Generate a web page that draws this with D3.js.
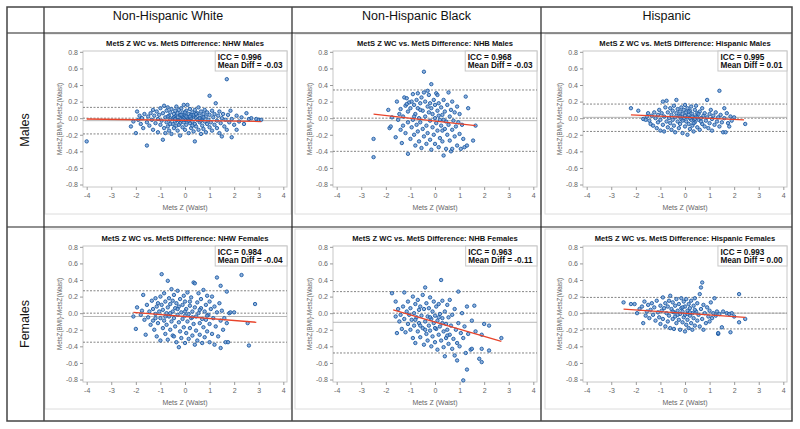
<!DOCTYPE html>
<html>
<head>
<meta charset="utf-8">
<script src="https://cdn.jsdelivr.net/npm/d3@7"></script>
<style>
  body { margin: 0; background: #fff; }
  svg { font-family: Arial, "Liberation Sans", sans-serif; }
</style>
</head>
<body>
<svg id="chart" width="800" height="429"></svg>
<script>
// column / row headers
const groups = ["Non-Hispanic White", "Non-Hispanic Black", "Hispanic"]
const sexes = ["Males", "Females"]
const groupShort = ["NHW", "NHB", "Hispanic"]

// per-panel stats, rows = sexes, cols = groups
const iccValues = [[0.996, 0.968, 0.995], [0.984, 0.963, 0.993]]
const meanDiffs = [[-0.03, -0.03, 0.01], [-0.04, -0.11, 0.00]]
const upperLoA = [[0.13, 0.34, 0.17], [0.27, 0.26, 0.19]]
const lowerLoA = [[-0.19, -0.40, -0.16], [-0.35, -0.48, -0.19]]
// regression line end points [x0, y0, x1, y1]
const fitLines = [
  [[-4.0, -0.01, 3.1, -0.04], [-2.5, 0.05, 1.65, -0.09], [-2.2, 0.04, 2.4, -0.02]],
  [[-2.1, 0.01, 2.9, -0.11], [-1.7, 0.04, 2.7, -0.34], [-2.5, 0.05, 2.45, -0.05]]
]

const xTicks = [-4, -3, -2, -1, 0, 1, 2, 3, 4]
const yTicks = [-0.8, -0.6, -0.4, -0.2, 0.0, 0.2, 0.4, 0.6, 0.8]

// scatter points [MetsZ(Waist), MetsZ(BMI)-MetsZ(Waist)]
const nhwMales = [[-4.0,-0.28],[-2.2,-0.10],[-2.1,-0.04],[-2.0,-0.18],[-1.95,0.08],[-1.9,-0.02],[-1.85,0.03],[-1.8,-0.07],[-1.75,0.0],[-1.7,-0.12],[-1.65,0.05],[-1.55,-0.33],[-1.55,-0.05],[-1.5,0.02],[-1.45,-0.09],[-1.4,0.06],[-1.35,-0.02],[-1.3,0.10],[-1.3,-0.14],[-1.25,0.03],[-1.2,-0.06],[-1.15,0.08],[-1.1,-0.01],[-1.1,-0.17],[-1.05,0.04],[-1.0,-0.08],[-1.0,0.12],[-0.95,-0.03],[-0.9,-0.26],[-0.9,0.06],[-0.85,-0.12],[-0.85,0.15],[-0.8,0.01],[-0.8,-0.18],[-0.75,0.09],[-0.75,-0.05],[-0.7,0.13],[-0.7,-0.10],[-0.65,0.03],[-0.65,-0.15],[-0.6,0.07],[-0.6,-0.02],[-0.55,0.11],[-0.55,-0.19],[-0.5,0.00],[-0.5,-0.07],[-0.45,0.05],[-0.45,-0.12],[-0.4,0.09],[-0.4,-0.04],[-0.4,0.02],[-0.35,-0.09],[-0.35,0.14],[-0.3,0.01],[-0.3,-0.15],[-0.3,0.06],[-0.25,-0.03],[-0.25,0.10],[-0.2,-0.21],[-0.2,0.04],[-0.2,-0.06],[-0.15,0.12],[-0.15,-0.01],[-0.1,-0.11],[-0.1,0.07],[-0.1,0.02],[-0.05,-0.05],[-0.05,0.16],[0.0,-0.14],[0.0,0.03],[0.0,-0.02],[0.05,0.09],[0.05,-0.08],[0.1,0.16],[0.1,-0.03],[0.1,0.01],[0.15,-0.18],[0.15,0.05],[0.2,-0.06],[0.2,0.11],[0.2,-0.01],[0.25,0.04],[0.25,-0.12],[0.3,0.07],[0.3,-0.04],[0.35,-0.16],[0.35,0.02],[0.4,-0.28],[0.4,0.10],[0.4,-0.07],[0.45,0.00],[0.45,-0.10],[0.5,0.06],[0.5,-0.02],[0.55,-0.14],[0.55,0.13],[0.6,-0.05],[0.6,0.03],[0.65,-0.19],[0.65,0.08],[0.7,-0.01],[0.7,-0.09],[0.75,0.05],[0.75,-0.13],[0.8,0.10],[0.8,-0.04],[0.85,0.02],[0.85,-0.17],[0.9,0.07],[0.9,-0.07],[0.95,-0.02],[1.0,0.27],[1.0,-0.11],[1.0,0.04],[1.05,-0.05],[1.1,0.09],[1.1,-0.15],[1.15,0.01],[1.2,-0.08],[1.2,0.05],[1.25,0.18],[1.3,-0.03],[1.3,-0.12],[1.35,0.03],[1.4,-0.18],[1.4,0.08],[1.45,-0.06],[1.5,0.00],[1.5,-0.22],[1.55,0.05],[1.6,-0.10],[1.65,-0.02],[1.7,0.47],[1.7,-0.14],[1.75,0.04],[1.8,-0.05],[1.85,0.09],[1.9,-0.23],[1.9,-0.01],[2.0,-0.08],[2.1,0.03],[2.1,-0.14],[2.2,-0.04],[2.3,0.01],[2.4,-0.07],[2.5,0.06],[2.6,-0.01],[2.7,0.00],[2.9,-0.01],[3.0,-0.02],[3.1,-0.02],[-0.45,0.01],[-0.35,-0.02],[-0.15,0.04],[-0.05,0.0],[0.05,0.02],[0.15,-0.03],[0.25,0.00],[0.35,0.04],[-0.25,-0.08],[0.3,-0.09],[-0.6,-0.07],[0.6,0.0],[0.45,0.05],[-0.1,-0.02],[0.0,0.07],[0.2,0.02],[-0.4,-0.01],[0.65,-0.03],[0.75,0.01],[-0.7,0.02]]

const nhbMales = [[-2.5,-0.47],[-2.5,-0.25],[-1.9,0.10],[-1.85,-0.12],[-1.8,-0.10],[-1.75,0.01],[-1.6,-0.23],[-1.55,0.20],[-1.5,-0.02],[-1.45,0.05],[-1.4,-0.14],[-1.4,0.11],[-1.35,-0.30],[-1.3,0.02],[-1.3,-0.09],[-1.25,0.25],[-1.2,0.15],[-1.2,-0.18],[-1.15,0.24],[-1.1,-0.43],[-1.1,0.08],[-1.1,-0.05],[-1.05,0.19],[-1.0,-0.25],[-1.0,0.12],[-0.95,0.20],[-0.95,-0.11],[-0.9,-0.02],[-0.9,0.29],[-0.85,0.16],[-0.85,-0.20],[-0.8,0.05],[-0.8,-0.33],[-0.75,0.22],[-0.75,-0.08],[-0.7,0.12],[-0.7,-0.16],[-0.7,0.30],[-0.65,0.00],[-0.65,-0.28],[-0.6,0.18],[-0.6,-0.05],[-0.55,0.25],[-0.55,-0.36],[-0.5,0.09],[-0.5,-0.13],[-0.45,0.56],[-0.45,0.31],[-0.45,-0.22],[-0.4,0.02],[-0.4,0.20],[-0.35,-0.09],[-0.35,-0.31],[-0.3,0.14],[-0.3,-0.18],[-0.25,0.07],[-0.25,0.28],[-0.2,-0.03],[-0.2,-0.26],[-0.15,0.41],[-0.15,0.12],[-0.15,-0.38],[-0.1,-0.11],[-0.1,0.05],[-0.05,0.22],[-0.05,-0.20],[0.0,0.00],[0.0,-0.31],[0.0,0.16],[0.05,-0.06],[0.05,0.30],[0.1,-0.15],[0.1,0.09],[0.15,-0.35],[0.15,0.18],[0.2,-0.02],[0.2,-0.24],[0.25,0.13],[0.25,-0.09],[0.3,0.04],[0.3,-0.28],[0.35,-0.45],[0.35,0.22],[0.4,-0.13],[0.4,0.08],[0.45,-0.04],[0.45,-0.37],[0.5,0.16],[0.5,-0.20],[0.55,0.31],[0.55,-0.08],[0.6,0.02],[0.6,-0.27],[0.65,-0.40],[0.65,0.10],[0.7,-0.14],[0.7,0.20],[0.75,-0.03],[0.8,-0.22],[0.8,0.07],[0.85,-0.10],[0.9,0.14],[0.9,-0.33],[0.95,-0.05],[1.0,0.05],[1.0,-0.19],[1.05,-0.37],[1.1,-0.08],[1.15,-0.25],[1.2,-0.35],[1.25,0.26],[1.3,-0.33],[1.35,0.12],[1.55,-0.27],[1.65,-0.09],[-1.15,0.17],[-0.3,0.33],[0.1,0.28],[-0.6,0.10],[0.35,-0.02],[0.7,-0.37],[0.3,-0.15],[-0.85,0.02],[0.15,0.03],[-0.2,0.18]]

const hispMales = [[-2.2,0.12],[-1.9,0.09],[-1.7,-0.01],[-1.6,-0.02],[-1.55,0.02],[-1.5,0.06],[-1.45,-0.03],[-1.4,-0.07],[-1.35,0.03],[-1.3,-0.09],[-1.25,0.07],[-1.2,0.0],[-1.15,-0.12],[-1.1,0.04],[-1.1,-0.05],[-1.05,0.10],[-1.0,-0.02],[-1.0,-0.15],[-0.95,0.06],[-0.9,0.20],[-0.9,-0.08],[-0.85,0.02],[-0.85,-0.16],[-0.8,0.13],[-0.75,0.21],[-0.75,-0.04],[-0.7,0.07],[-0.7,-0.11],[-0.65,0.0],[-0.6,0.12],[-0.6,-0.06],[-0.55,0.04],[-0.55,-0.14],[-0.5,0.09],[-0.5,-0.02],[-0.45,0.15],[-0.45,-0.09],[-0.4,0.01],[-0.4,-0.17],[-0.35,0.22],[-0.35,0.06],[-0.3,-0.04],[-0.3,0.11],[-0.25,-0.12],[-0.25,0.03],[-0.2,0.08],[-0.2,-0.07],[-0.15,0.13],[-0.15,-0.01],[-0.1,-0.18],[-0.1,0.05],[-0.05,0.0],[-0.05,0.10],[0.0,-0.10],[0.0,0.16],[0.0,0.03],[0.05,-0.04],[0.05,0.07],[0.1,-0.20],[0.1,0.01],[0.1,0.12],[0.15,-0.07],[0.15,0.04],[0.2,0.09],[0.2,-0.13],[0.25,-0.02],[0.25,0.14],[0.3,0.05],[0.3,-0.09],[0.35,0.0],[0.35,-0.16],[0.4,0.10],[0.4,-0.05],[0.45,0.02],[0.45,0.15],[0.5,-0.11],[0.5,0.06],[0.55,-0.02],[0.6,0.08],[0.6,-0.14],[0.65,0.0],[0.7,0.12],[0.7,-0.07],[0.75,0.03],[0.8,-0.10],[0.8,0.06],[0.85,-0.03],[0.9,0.22],[0.9,0.01],[0.95,-0.12],[1.0,0.05],[1.0,-0.06],[1.05,0.10],[1.1,-0.01],[1.1,-0.15],[1.15,0.03],[1.2,-0.08],[1.25,0.07],[1.3,-0.04],[1.35,0.01],[1.4,0.33],[1.4,-0.10],[1.45,0.04],[1.5,-0.05],[1.55,-0.17],[1.6,0.12],[1.6,0.0],[1.65,-0.17],[1.7,0.06],[1.75,-0.06],[1.8,-0.10],[1.85,0.02],[1.9,-0.03],[2.0,0.01],[2.45,-0.07],[0.2,0.0],[0.3,0.02],[0.4,-0.01],[-0.1,-0.03],[0.5,0.01],[0.15,0.08],[-0.2,0.02],[0.55,0.05],[0.35,-0.06],[0.65,-0.04]]

const nhwFemales = [[-2.1,-0.04],[-2.0,-0.19],[-1.95,0.07],[-1.8,-0.02],[-1.75,0.03],[-1.7,0.22],[-1.65,-0.08],[-1.6,-0.26],[-1.55,0.10],[-1.5,-0.05],[-1.45,0.02],[-1.4,-0.14],[-1.35,0.15],[-1.3,-0.09],[-1.3,0.05],[-1.25,-0.20],[-1.2,0.18],[-1.2,-0.01],[-1.15,0.08],[-1.15,-0.28],[-1.1,-0.12],[-1.1,0.12],[-1.05,0.02],[-1.0,-0.33],[-1.0,0.20],[-1.0,-0.06],[-0.95,0.47],[-0.95,0.10],[-0.9,-0.18],[-0.9,0.04],[-0.85,0.24],[-0.85,-0.09],[-0.8,-0.25],[-0.8,0.14],[-0.75,0.00],[-0.75,-0.14],[-0.7,0.39],[-0.7,0.07],[-0.7,-0.32],[-0.65,0.18],[-0.65,-0.04],[-0.6,-0.20],[-0.6,0.11],[-0.55,0.29],[-0.55,-0.10],[-0.5,0.02],[-0.5,-0.27],[-0.5,0.15],[-0.45,-0.06],[-0.45,0.22],[-0.4,-0.16],[-0.4,0.06],[-0.35,-0.35],[-0.35,0.12],[-0.3,-0.02],[-0.3,0.27],[-0.25,-0.41],[-0.25,-0.11],[-0.25,0.08],[-0.2,0.17],[-0.2,-0.22],[-0.15,0.01],[-0.15,-0.30],[-0.1,0.10],[-0.1,-0.07],[-0.05,0.21],[-0.05,-0.17],[0.0,-0.03],[0.0,-0.36],[0.0,0.14],[0.05,0.05],[0.05,-0.24],[0.1,-0.10],[0.1,0.25],[0.15,-0.01],[0.15,-0.31],[0.2,0.09],[0.2,-0.18],[0.25,-0.06],[0.25,0.19],[0.3,-0.27],[0.3,0.02],[0.35,0.37],[0.35,-0.13],[0.4,0.36],[0.4,-0.38],[0.4,0.07],[0.45,-0.04],[0.45,-0.21],[0.5,0.13],[0.5,-0.33],[0.55,0.00],[0.55,0.24],[0.6,-0.12],[0.6,-0.26],[0.65,0.06],[0.65,0.17],[0.7,-0.07],[0.7,-0.36],[0.75,0.28],[0.75,-0.17],[0.8,0.02],[0.8,-0.29],[0.85,0.10],[0.85,-0.08],[0.9,0.21],[0.9,-0.22],[0.95,-0.02],[1.0,-0.35],[1.0,0.14],[1.0,-0.13],[1.05,0.05],[1.1,-0.25],[1.1,0.20],[1.15,-0.06],[1.2,-0.38],[1.2,0.08],[1.25,-0.16],[1.3,0.43],[1.3,0.01],[1.35,-0.28],[1.4,0.72],[1.4,0.12],[1.45,0.33],[1.45,-0.42],[1.45,-0.09],[1.5,0.03],[1.55,-0.20],[1.6,-0.06],[1.65,-0.35],[1.7,0.26],[1.7,-0.12],[1.75,-0.35],[1.8,0.0],[1.85,0.01],[2.0,0.01],[2.3,0.46],[2.55,-0.12],[2.6,-0.39],[2.85,0.11],[-0.6,0.0],[-0.3,0.05],[0.0,0.02],[0.3,-0.05],[-0.8,-0.04],[0.6,0.04],[-1.2,-0.06],[0.9,-0.03],[-0.45,-0.28],[0.2,0.14]]

const nhbFemales = [[-1.75,0.24],[-1.6,0.14],[-1.6,-0.04],[-1.55,-0.24],[-1.5,0.05],[-1.45,-0.10],[-1.4,-0.02],[-1.35,-0.19],[-1.3,0.08],[-1.25,0.25],[-1.25,-0.07],[-1.2,-0.23],[-1.15,0.02],[-1.1,-0.13],[-1.1,0.14],[-1.05,-0.02],[-1.0,-0.20],[-1.0,0.06],[-0.95,-0.08],[-0.9,0.20],[-0.9,-0.30],[-0.85,0.00],[-0.85,-0.15],[-0.8,0.11],[-0.8,-0.36],[-0.75,-0.05],[-0.7,0.16],[-0.7,-0.22],[-0.65,0.04],[-0.65,-0.12],[-0.6,-0.29],[-0.6,0.08],[-0.55,-0.03],[-0.5,0.22],[-0.5,-0.18],[-0.45,-0.38],[-0.45,0.05],[-0.4,0.31],[-0.4,-0.10],[-0.35,-0.25],[-0.35,0.12],[-0.3,-0.04],[-0.3,-0.33],[-0.25,0.06],[-0.25,-0.15],[-0.2,0.19],[-0.2,-0.21],[-0.15,-0.07],[-0.15,-0.40],[-0.1,0.02],[-0.1,-0.28],[-0.05,0.14],[-0.05,-0.12],[0.0,-0.03],[0.0,-0.35],[0.05,-0.19],[0.05,0.08],[0.1,-0.09],[0.1,-0.44],[0.15,0.11],[0.15,-0.26],[0.2,-0.01],[0.2,-0.16],[0.25,0.40],[0.25,-0.33],[0.3,0.15],[0.3,-0.06],[0.35,-0.22],[0.35,-0.41],[0.4,-0.52],[0.4,0.02],[0.45,-0.13],[0.45,-0.30],[0.5,0.10],[0.5,-0.20],[0.55,-0.37],[0.55,-0.05],[0.6,-0.26],[0.6,0.16],[0.65,-0.15],[0.7,-0.43],[0.7,-0.02],[0.75,-0.31],[0.8,-0.51],[0.8,0.05],[0.85,-0.20],[0.9,-0.57],[0.9,-0.36],[0.95,0.26],[0.95,-0.12],[1.0,-0.40],[1.05,-0.24],[1.1,0.00],[1.15,-0.81],[1.15,-0.30],[1.2,-0.16],[1.25,-0.48],[1.3,-0.68],[1.3,0.08],[1.35,-0.25],[1.45,-0.44],[1.5,-0.43],[1.5,-0.09],[1.6,0.09],[1.65,-0.22],[1.8,-0.55],[1.9,-0.59],[1.9,-0.43],[1.9,-0.26],[2.0,-0.13],[2.2,-0.15],[2.2,-0.45],[2.7,-0.30],[-0.6,-0.15],[-0.2,-0.05],[0.0,-0.18],[0.3,-0.12],[-0.8,-0.08],[0.15,-0.05],[-0.4,-0.20],[0.5,-0.27]]

const hispFemales = [[-2.5,0.13],[-2.2,0.11],[-2.05,0.11],[-1.95,0.0],[-1.85,0.05],[-1.75,0.08],[-1.7,-0.12],[-1.65,0.14],[-1.6,-0.03],[-1.55,0.02],[-1.5,0.10],[-1.45,-0.06],[-1.4,0.04],[-1.35,0.12],[-1.3,-0.02],[-1.25,0.07],[-1.2,-0.09],[-1.15,0.15],[-1.1,0.01],[-1.05,-0.05],[-1.0,0.09],[-1.0,-0.13],[-0.95,0.03],[-0.9,0.19],[-0.9,-0.07],[-0.85,0.06],[-0.8,-0.16],[-0.8,0.12],[-0.75,0.0],[-0.7,0.08],[-0.7,-0.10],[-0.65,0.15],[-0.65,-0.03],[-0.6,0.21],[-0.6,-0.18],[-0.55,0.05],[-0.5,-0.07],[-0.5,0.13],[-0.45,0.01],[-0.45,-0.19],[-0.4,0.09],[-0.4,-0.04],[-0.35,0.17],[-0.35,-0.12],[-0.3,0.03],[-0.25,-0.08],[-0.25,0.11],[-0.2,-0.01],[-0.2,-0.20],[-0.15,0.06],[-0.15,0.18],[-0.1,-0.11],[-0.1,0.02],[-0.05,-0.05],[-0.05,0.14],[0.0,-0.22],[0.0,0.08],[0.0,-0.02],[0.05,-0.14],[0.05,0.17],[0.1,0.03],[0.1,-0.08],[0.15,0.11],[0.15,-0.18],[0.2,-0.03],[0.2,0.06],[0.25,-0.12],[0.25,0.15],[0.3,0.0],[0.3,-0.20],[0.35,0.09],[0.35,-0.06],[0.4,0.18],[0.4,-0.15],[0.45,0.02],[0.5,-0.09],[0.5,0.12],[0.55,-0.02],[0.6,0.23],[0.6,-0.16],[0.65,0.31],[0.65,0.05],[0.7,0.37],[0.7,-0.07],[0.75,0.10],[0.75,-0.20],[0.8,0.0],[0.85,-0.12],[0.9,0.07],[0.95,-0.04],[1.0,-0.10],[1.0,0.03],[1.05,0.13],[1.1,-0.06],[1.15,0.0],[1.2,0.18],[1.25,-0.03],[1.3,0.02],[1.35,-0.25],[1.35,-0.24],[1.4,-0.01],[1.5,-0.17],[1.55,0.02],[1.7,0.0],[1.8,-0.01],[1.85,-0.23],[1.9,0.0],[2.0,-0.04],[2.2,0.23],[2.2,-0.11],[2.45,-0.07],[0.2,0.01],[-0.3,-0.02],[0.1,-0.01],[-0.5,0.02],[0.4,0.04],[-0.1,0.07]]

const pointSets = [[nhwMales, nhbMales, hispMales], [nhwFemales, nhbFemales, hispFemales]]

class BlandAltmanPanel {
    constructor(_config, _data) {
        this.config = {
            parent: _config.parent,
            left: _config.left,
            top: _config.top,
            width: 246,
            height: 180,
            margin: {top: 17, right: 4, bottom: 27, left: 38}
        }
        this.data = _data
        this.initVis()
    }

    initVis() {
        let vis = this
        let m = vis.config.margin
        vis.width = vis.config.width - m.left - m.right
        vis.height = vis.config.height - m.top - m.bottom

        vis.g = vis.config.parent.append('g')
            .attr('transform', `translate(${vis.config.left},${vis.config.top})`)

        // light graph frame
        vis.g.append('rect')
            .attr('width', vis.config.width)
            .attr('height', vis.config.height)
            .attr('fill', '#fff')
            .attr('stroke', '#dcdcdc')
            .attr('stroke-width', 1)

        vis.chart = vis.g.append('g')
            .attr('transform', `translate(${m.left},${m.top})`)

        vis.xScale = d3.scaleLinear().domain([-4.15, 4.15]).range([0, vis.width])
        vis.yScale = d3.scaleLinear().domain([-0.83, 0.81]).range([vis.height, 0])

        vis.xAxis = d3.axisBottom(vis.xScale).tickValues(xTicks).tickSize(3).tickPadding(3)
            .tickFormat(d => String(d))
        vis.yAxis = d3.axisLeft(vis.yScale).tickValues(yTicks).tickSize(3).tickPadding(2)
            .tickFormat(d => (Math.abs(d) < 1e-9 ? 0 : d).toFixed(1))

        vis.renderVis()
    }

    renderVis() {
        let vis = this
        let d = vis.data
        let m = vis.config.margin

        vis.chart.append('rect')
            .attr('width', vis.width)
            .attr('height', vis.height)
            .attr('fill', '#fff')
            .attr('stroke', '#c8c8c8')

        let xa = vis.chart.append('g')
            .attr('class', 'axis x-axis')
            .attr('transform', `translate(0,${vis.height})`)
            .call(vis.xAxis)
        let ya = vis.chart.append('g')
            .attr('class', 'axis y-axis')
            .call(vis.yAxis)
        ;[xa, ya].forEach(a => {
            a.select('.domain').remove()
            a.selectAll('line').attr('stroke', '#9a9a9a')
            a.selectAll('text').attr('fill', '#666').style('font-size', '7px')
        })

        // reference lines: limits of agreement, zero, mean
        let refs = [
            {v: d.upper, dash: '2,1.5', color: '#777'},
            {v: 0, dash: '2,1.5', color: '#777'},
            {v: d.lower, dash: '2,1.5', color: '#777'},
            {v: d.mean, dash: null, color: '#b0b0b0'}
        ]
        vis.chart.selectAll('.ref')
            .data(refs)
            .join('line')
                .attr('class', 'ref')
                .attr('x1', 0)
                .attr('x2', vis.width)
                .attr('y1', r => vis.yScale(r.v))
                .attr('y2', r => vis.yScale(r.v))
                .attr('stroke', r => r.color)
                .attr('stroke-width', 0.9)
                .attr('stroke-dasharray', r => r.dash)

        vis.chart.selectAll('.pt')
            .data(d.points)
            .join('circle')
                .attr('class', 'pt')
                .attr('cx', p => vis.xScale(p[0]))
                .attr('cy', p => vis.yScale(p[1]))
                .attr('r', 1.7)
                .attr('fill', '#6d9ad3')
                .attr('fill-opacity', 0.75)
                .attr('stroke', '#1c5aa3')
                .attr('stroke-width', 0.9)

        vis.chart.append('line')
            .attr('x1', vis.xScale(d.fit[0]))
            .attr('y1', vis.yScale(d.fit[1]))
            .attr('x2', vis.xScale(d.fit[2]))
            .attr('y2', vis.yScale(d.fit[3]))
            .attr('stroke', '#e8442b')
            .attr('stroke-width', 1.3)

        // ICC inset box
        let box = vis.chart.append('g')
        let t = box.append('text')
            .attr('font-size', '8.2px')
            .attr('font-weight', 'bold')
            .attr('fill', '#111')
        t.append('tspan').attr('x', 0).attr('y', 8.5).text(`ICC = ${d.icc.toFixed(3)}`)
        t.append('tspan').attr('x', 0).attr('y', 17).text(`Mean Diff = ${d.mean.toFixed(2)}`)
        let bw = t.node().getBBox().width + 4
        box.attr('transform', `translate(${vis.width - bw},0)`)
        box.insert('rect', 'text')
            .attr('x', -2.5)
            .attr('y', 0)
            .attr('width', bw + 2.5)
            .attr('height', 20)
            .attr('fill', '#fff')
            .attr('stroke', '#c8c8c8')

        // title and axis labels
        vis.g.append('text')
            .attr('x', m.left + vis.width / 2)
            .attr('y', 11.5)
            .attr('text-anchor', 'middle')
            .attr('font-size', '7.6px')
            .attr('font-weight', 'bold')
            .attr('fill', '#111')
            .text(d.title)

        vis.g.append('text')
            .attr('x', m.left + vis.width / 2)
            .attr('y', 175.5)
            .attr('text-anchor', 'middle')
            .attr('font-size', '7px')
            .attr('fill', '#666')
            .text('Mets Z (Waist)')

        vis.g.append('text')
            .attr('transform', `translate(16.5,${m.top + vis.height / 2}) rotate(-90)`)
            .attr('text-anchor', 'middle')
            .attr('font-size', '6.3px')
            .attr('fill', '#666')
            .text('MetsZ(BMI)-MetsZ(Waist)')
    }
}

const svg = d3.select('#chart')
svg.append('rect').attr('width', 800).attr('height', 429).attr('fill', '#fff')

// table grid
const colX = [7, 44, 292, 541, 792]
const rowY = [7, 33, 227, 421]
const panelLeft = [45, 295, 545]
const panelTop = [34, 229]

sexes.forEach((sex, r) => {
    groups.forEach((grp, c) => {
        new BlandAltmanPanel({parent: svg, left: panelLeft[c], top: panelTop[r]}, {
            title: `MetS Z WC vs. MetS Difference: ${groupShort[c]} ${sex}`,
            icc: iccValues[r][c],
            mean: meanDiffs[r][c],
            upper: upperLoA[r][c],
            lower: lowerLoA[r][c],
            fit: fitLines[r][c],
            points: pointSets[r][c]
        })
    })
})

const grid = svg.append('g').attr('stroke', '#222').attr('stroke-width', 1.2)
colX.slice(1, 4).forEach(x => grid.append('line').attr('x1', x).attr('x2', x).attr('y1', rowY[0]).attr('y2', rowY[3]))
rowY.slice(1, 3).forEach(y => grid.append('line').attr('x1', colX[0]).attr('x2', colX[4]).attr('y1', y).attr('y2', y))
grid.append('rect')
    .attr('x', colX[0]).attr('y', rowY[0])
    .attr('width', colX[4] - colX[0]).attr('height', rowY[3] - rowY[0])
    .attr('fill', 'none')
    .attr('stroke', '#444')
    .attr('stroke-width', 1.5)

svg.selectAll('.colhead')
    .data(groups)
    .join('text')
        .attr('class', 'colhead')
        .attr('x', (g, i) => (colX[i + 1] + colX[i + 2]) / 2)
        .attr('y', 20)
        .attr('text-anchor', 'middle')
        .attr('font-size', '12.5px')
        .attr('fill', '#111')
        .text(g => g)

svg.selectAll('.rowhead')
    .data(sexes)
    .join('text')
        .attr('class', 'rowhead')
        .attr('transform', (s, i) => `translate(29,${(rowY[i + 1] + rowY[i + 2]) / 2}) rotate(-90)`)
        .attr('text-anchor', 'middle')
        .attr('font-size', '12.5px')
        .attr('fill', '#111')
        .text(s => s)
</script>
</body>
</html>
